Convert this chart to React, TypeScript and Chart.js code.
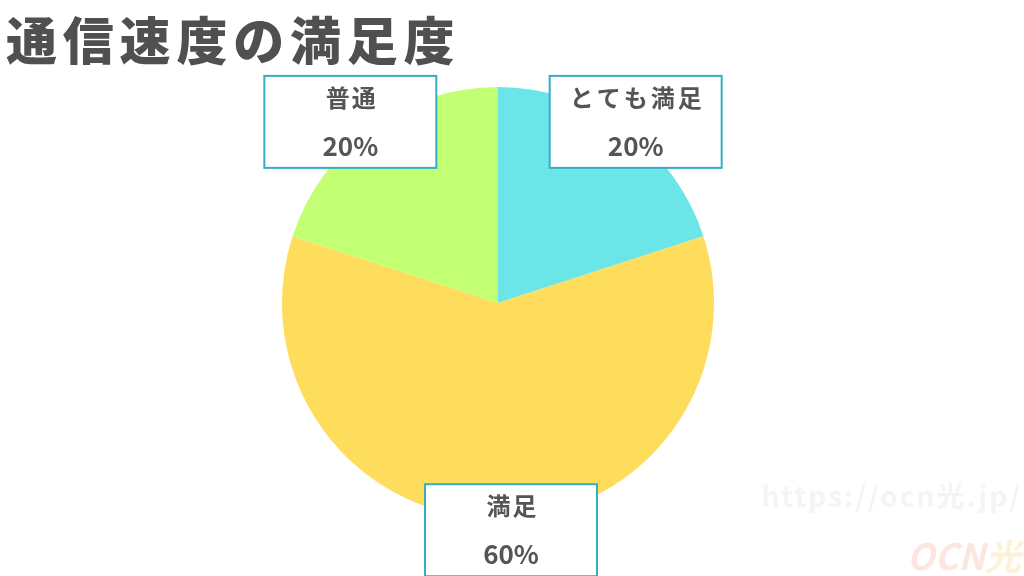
import React, { useEffect, useRef } from "react";
import { Chart, registerables } from "chart.js";

Chart.register(...registerables);

const TITLE = "通信速度の満足度";
const categories = ["とても満足", "満足", "普通"];
const values = [20, 60, 20];
const percentLabels = ["20%", "60%", "20%"];
const colors = ["#6be5e8", "#ffdd5c", "#c3ff73"];
const WATERMARK_URL = "https://ocn光.jp/";
const WATERMARK_LOGO = "OCN";
const WATERMARK_LOGO_KANJI = "光";

// layout-only nudges for label boxes (horizontal shift from arc anchor)
const BOX_NUDGE_X = [5, 13, -15];

const FONT = '"Noto Sans CJK JP", "Noto Sans", sans-serif';

const overlayPlugin = {
  id: "overlay",
  afterDraw(chart: any) {
    const ctx = chart.ctx as CanvasRenderingContext2D;
    ctx.save();

    // Title
    ctx.fillStyle = "#505050";
    ctx.font = `900 51px ${FONT}`;
    ctx.textBaseline = "middle";
    ctx.textAlign = "left";
    let x = 6;
    for (const ch of TITLE) {
      ctx.fillText(ch, x, 41);
      x += 56.8;
    }

    // Watermarks
    ctx.fillStyle = "#f4f4f4";
    ctx.font = `bold 28px ${FONT}`;
    ctx.textAlign = "right";
    (ctx as any).letterSpacing = "2px";
    ctx.fillText(WATERMARK_URL, 1022, 496);
    (ctx as any).letterSpacing = "0px";
    ctx.font = `italic bold 36px ${FONT}`;
    const kw = ctx.measureText(WATERMARK_LOGO_KANJI).width;
    ctx.fillStyle = "#fdf1da";
    ctx.fillText(WATERMARK_LOGO_KANJI, 1021, 556);
    ctx.fillStyle = "#fde6df";
    ctx.fillText(WATERMARK_LOGO, 1021 - kw, 556);

    // Label boxes
    const meta = chart.getDatasetMeta(0);
    meta.data.forEach((arc: any, i: number) => {
      const p = arc.getProps(["x", "y", "startAngle", "endAngle", "outerRadius"], true);
      const mid = (p.startAngle + p.endAngle) / 2;
      const d = p.outerRadius * 1.045;
      const cx = p.x + Math.cos(mid) * d + BOX_NUDGE_X[i];
      const cy = p.y + Math.sin(mid) * d + 1.5;
      const w = 172;
      const h = 92;
      ctx.fillStyle = "#ffffff";
      ctx.fillRect(cx - w / 2, cy - h / 2, w, h);
      ctx.strokeStyle = "#35adc4";
      ctx.lineWidth = 2;
      ctx.strokeRect(cx - w / 2, cy - h / 2, w, h);
      ctx.fillStyle = "#555555";
      ctx.textAlign = "center";
      ctx.textBaseline = "middle";
      ctx.font = `bold 24px ${FONT}`;
      (ctx as any).letterSpacing = categories[i].length > 2 ? "3px" : "2px";
      ctx.fillText(categories[i], cx + 1.5, cy - 24);
      (ctx as any).letterSpacing = "0px";
      ctx.font = `bold 26px ${FONT}`;
      ctx.fillText(percentLabels[i], cx, cy + 24);
    });

    ctx.restore();
  },
};

export default function App() {
  const ref = useRef<HTMLCanvasElement>(null);

  useEffect(() => {
    document.body.style.margin = "0";
    const chart = new Chart(ref.current!, {
      type: "pie",
      data: {
        labels: categories,
        datasets: [
          {
            data: values,
            backgroundColor: colors,
            borderWidth: 0,
          },
        ],
      },
      options: {
        animation: false,
        responsive: false,
        maintainAspectRatio: false,
        layout: { padding: { top: 87, bottom: 57, left: 0, right: 28 } },
        plugins: {
          legend: { display: false },
          tooltip: { enabled: false },
          title: { display: false },
        },
      },
      plugins: [overlayPlugin],
    });
    return () => chart.destroy();
  }, []);

  return (
    <div style={{ position: "fixed", left: 0, top: 0, width: 1024, height: 576, background: "#ffffff" }}>
      <canvas ref={ref} width={1024} height={576} style={{ width: 1024, height: 576, display: "block" }} />
    </div>
  );
}
